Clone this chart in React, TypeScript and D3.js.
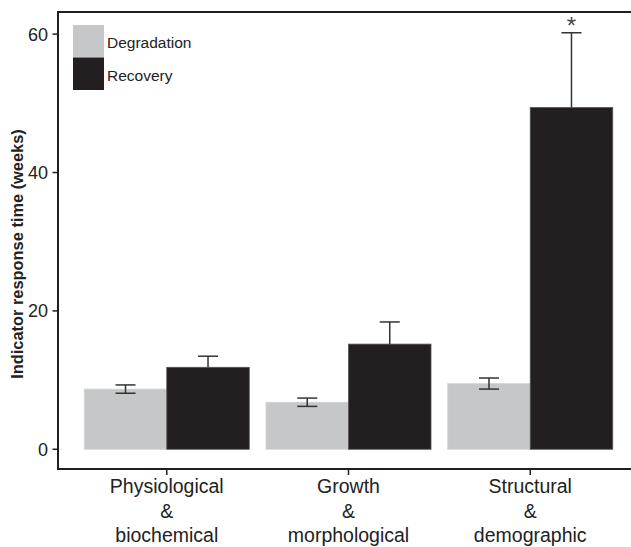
import React from "react";
import * as d3 from "d3";

const categories = ["Physiological\n&\nbiochemical", "Growth\n&\nmorphological", "Structural\n&\ndemographic"];
const seriesNames = ["Degradation", "Recovery"];
const degradation = [8.7, 6.8, 9.5];
const degradationErr = [0.6, 0.6, 0.8];
const recovery = [11.85, 15.2, 49.4];
const recoveryErr = [1.6, 3.2, 10.8];
const significant = [false, false, true];
const yTicks = [0, 20, 40, 60];
const colors = ["#c6c7c8", "#231f20"];

const W = 631;
const H = 547;

export default function App() {
  const y = d3.scaleLinear().domain([-2.85, 63.2]).range([469, 12]);
  const x = d3
    .scaleBand<string>()
    .domain(categories)
    .range([58, 639])
    .paddingInner(0.092)
    .paddingOuter(0.1445);
  const xs = d3.scaleBand<string>().domain(seriesNames).range([0, x.bandwidth()]);
  const values = [degradation, recovery];
  const errs = [degradationErr, recoveryErr];
  const ink = "#231f20";
  const font = "Liberation Sans, Arial, Helvetica, sans-serif";

  return (
    <div style={{ position: "absolute", left: 0, top: 0 }}>
      <svg width={W} height={H} style={{ display: "block", background: "#fff" }} fontFamily={font}>
        <rect x={0} y={0} width={W} height={H} fill="#fff" />
        {/* bars */}
        {categories.map((c, i) =>
          seriesNames.map((s, k) => {
            const v = values[k][i];
            const e = errs[k][i];
            const bx = (x(c) ?? 0) + (xs(s) ?? 0);
            const bw = xs.bandwidth();
            const cx = bx + bw / 2;
            const top = y(v);
            const errTop = y(v + e);
            const errBot = k === 0 ? y(v - e) : y(v);
            return (
              <g key={c + s}>
                <rect
                  x={bx}
                  y={top}
                  width={bw}
                  height={y(0) - top}
                  fill={colors[k]}
                  stroke={k === 1 ? "#555" : "#d4d5d6"}
                  strokeWidth={0.8}
                />
                <line x1={cx} x2={cx} y1={errTop} y2={errBot} stroke="#333" strokeWidth={1.5} />
                <line x1={cx - 10} x2={cx + 10} y1={errTop} y2={errTop} stroke="#333" strokeWidth={1.5} />
                {k === 0 && (
                  <line x1={cx - 10} x2={cx + 10} y1={errBot} y2={errBot} stroke="#333" strokeWidth={1.5} />
                )}
                {k === 1 && significant[i] && (
                  <text x={cx} y={34} textAnchor="middle" fontSize={24} fill="#444">
                    *
                  </text>
                )}
              </g>
            );
          })
        )}
        {/* frame */}
        <line x1={58} x2={W} y1={12} y2={12} stroke={ink} strokeWidth={2} />
        <line x1={58} x2={W} y1={469} y2={469} stroke={ink} strokeWidth={2} />
        <line x1={58} x2={58} y1={11} y2={470} stroke={ink} strokeWidth={2} />
        {/* y ticks */}
        {yTicks.map((t) => (
          <g key={t}>
            <line x1={52.5} x2={58} y1={y(t)} y2={y(t)} stroke={ink} strokeWidth={1.5} />
            <text x={48} y={y(t)} dy="0.36em" textAnchor="end" fontSize={18} fill="#222">
              {t}
            </text>
          </g>
        ))}
        {/* x ticks and labels */}
        {categories.map((c) => {
          const cx = (x(c) ?? 0) + x.bandwidth() / 2;
          return (
            <g key={c}>
              <line x1={cx} x2={cx} y1={469} y2={475} stroke={ink} strokeWidth={1.5} />
              {c.split("\n").map((ln, j) => (
                <text key={j} x={cx} y={493 + j * 24.5} textAnchor="middle" fontSize={19.5} fill="#222">
                  {ln}
                </text>
              ))}
            </g>
          );
        })}
        {/* y title */}
        <text
          transform="translate(23,254) rotate(-90)"
          textAnchor="middle"
          fontSize={16.4}
          fontWeight="bold"
          fill="#222"
        >
          Indicator response time (weeks)
        </text>
        {/* legend */}
        {seriesNames.map((s, k) => (
          <g key={s}>
            <rect x={73} y={25 + k * 32.5} width={31} height={32.5} fill={colors[k]} />
            <text x={107} y={48 + k * 32.5} fontSize={15.5} fill="#222">
              {s}
            </text>
          </g>
        ))}
      </svg>
    </div>
  );
}
